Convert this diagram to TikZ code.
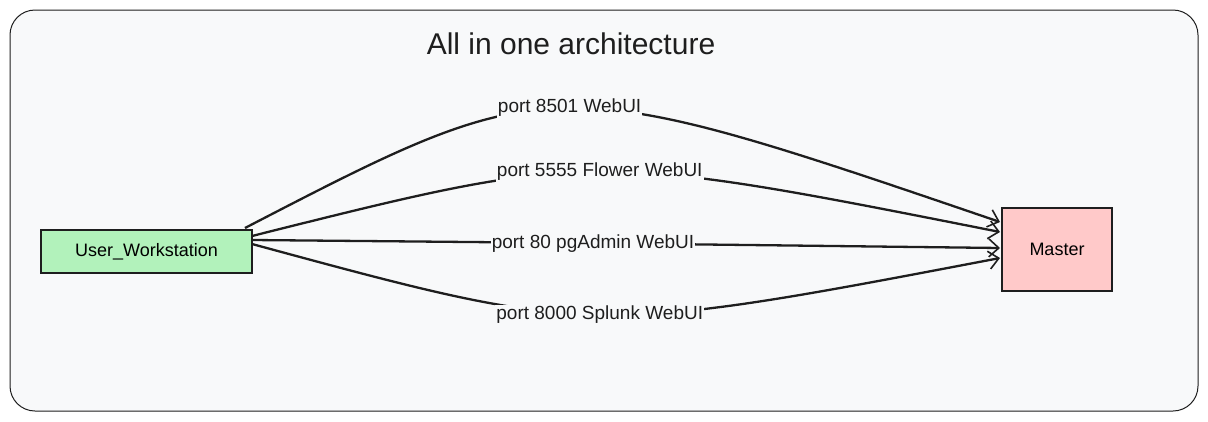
\documentclass[tikz,border=0pt]{standalone}
\usepackage{fontspec}
\setmainfont{Liberation Sans}
\usetikzlibrary{arrows.meta}
\definecolor{bg}{HTML}{F8F9FA}
\definecolor{ink}{HTML}{1E1E1E}
\definecolor{green}{HTML}{B2F2BB}
\definecolor{red}{HTML}{FFC9C9}
\begin{document}
\begin{tikzpicture}[x=1pt,y=-1pt,
  box/.style={draw=ink,line width=1.3pt,minimum height=#1,inner sep=0pt,font=\fontsize{18}{20}\selectfont},
  conn/.style={draw=ink,line width=2.3pt,-{Straight Barb[length=10pt,width=18pt,line width=1.6pt]}},
  lbl/.style={fill=bg,inner sep=1pt,font=\fontsize{19}{22}\selectfont,text=ink}]
\useasboundingbox (0,0) rectangle (1208,421);
\draw[ink,fill=bg,line width=1pt,rounded corners=25pt] (10,10) rectangle (1198,411);
\node[text=ink,font=\fontsize{30}{34}\selectfont] (title) at (571,44) {All in one architecture};
\node[box=43pt,fill=green,minimum width=211pt] (u) at (146.5,251.5) {User\_Workstation};
\node[box=83pt,fill=red,minimum width=110pt] (m) at (1057,249.5) {Master};
\coordinate (a1) at (245,228); \coordinate (b1) at (1000,222);
\coordinate (a2) at (252,236); \coordinate (b2) at (1000,232);
\coordinate (a3) at (252,240); \coordinate (b3) at (1000,248);
\coordinate (a4) at (252,244); \coordinate (b4) at (1000,258);
\draw[conn] (a1) .. controls (552,69) .. (b1) node[lbl,pos=0.5] (l1) {port 8501 WebUI};
\draw[conn] (a2) .. controls (591,151) .. (b2) node[lbl,pos=0.5] (l2) {port 5555 Flower WebUI};
\draw[conn] (a3) .. controls (582,243) .. (b3) node[lbl,pos=0.5] (l3) {port 80 pgAdmin WebUI};
\draw[conn] (a4) .. controls (591,336) .. (b4) node[lbl,pos=0.5] (l4) {port 8000 Splunk WebUI};
\end{tikzpicture}
\end{document}
